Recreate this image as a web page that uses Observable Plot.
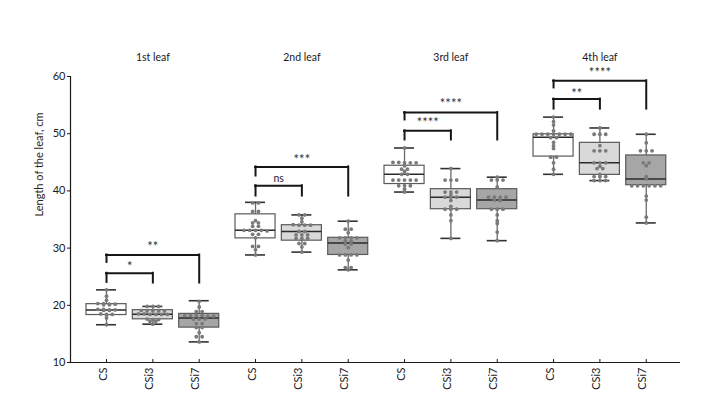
<!DOCTYPE html>
<html>
<head>
<meta charset="utf-8">
<script src="https://cdn.jsdelivr.net/npm/d3@7"></script>
<script src="https://cdn.jsdelivr.net/npm/@observablehq/plot@0.6"></script>
<style>
  html, body { margin: 0; padding: 0; background: #fff; }
  #chart svg { display: block; }
</style>
</head>
<body>
<div id="chart"></div>
<script>
// Leaf length (cm) of CS and the CSi3 / CSi7 lines, leaves 1–4
const leaves = ["1st leaf", "2nd leaf", "3rd leaf", "4th leaf"];
const genotypes = ["CS", "CSi3", "CSi7"];

// individual plants, one list per leaf
const lengthsCS = [
  [22.7, 21.6, 20.9, 20.3, 20.3, 20.2, 20.2, 20.1, 20.1, 19.3, 19.3, 19.2, 19.2, 19.1, 19.1, 18.5, 18.4, 18.4, 18.3, 17.8, 16.6],
  [37.9, 37.9, 36.4, 36.4, 34.8, 34.4, 34.4, 33.8, 33.8, 33.1, 33.1, 33.1, 33.1, 33.0, 32.4, 32.4, 31.8, 30.3, 30.3, 29.7, 28.8],
  [47.5, 45.0, 45.0, 44.9, 44.9, 44.9, 44.4, 43.8, 43.8, 43.4, 42.9, 42.9, 41.9, 41.9, 41.9, 41.9, 41.9, 40.9, 40.9, 40.9, 40.3, 39.8],
  [52.9, 52.1, 51.5, 50.5, 49.9, 49.9, 49.9, 49.9, 49.9, 49.9, 49.9, 49.3, 49.3, 48.5, 47.9, 47.4, 45.9, 45.9, 44.9, 43.8, 42.9]
];
const lengthsCSi3 = [
  [19.8, 19.8, 19.8, 19.1, 19.0, 19.0, 19.0, 19.0, 18.5, 18.5, 18.4, 18.4, 18.4, 18.4, 17.6, 17.5, 17.5, 17.2, 17.2, 16.7],
  [35.8, 35.8, 35.2, 34.6, 34.1, 34.0, 34.0, 34.0, 32.9, 32.9, 32.3, 32.3, 32.3, 31.7, 31.7, 31.7, 30.8, 30.8, 30.2, 29.3],
  [43.9, 41.9, 41.9, 41.9, 39.8, 39.8, 39.8, 39.3, 38.9, 38.9, 38.9, 38.3, 37.3, 36.8, 36.8, 36.8, 35.8, 34.8, 31.7],
  [51.0, 49.9, 49.9, 49.9, 47.9, 47.0, 47.0, 47.0, 44.9, 44.9, 44.9, 44.3, 43.9, 43.9, 42.9, 42.5, 42.5, 42.5, 41.8, 41.8, 41.8]
];
const lengthsCSi7 = [
  [20.7, 19.7, 18.9, 18.9, 18.2, 18.2, 18.2, 18.2, 18.1, 18.1, 17.6, 17.6, 17.6, 16.8, 16.8, 16.1, 16.1, 15.2, 14.5, 14.5, 13.6],
  [34.7, 33.3, 33.3, 32.7, 31.8, 31.8, 31.8, 31.8, 31.2, 31.2, 30.7, 30.7, 30.1, 28.8, 28.8, 28.8, 28.8, 27.9, 26.6, 26.6, 26.2],
  [42.4, 41.9, 41.9, 41.9, 40.7, 38.9, 38.9, 38.9, 38.9, 38.4, 38.3, 36.8, 36.8, 36.8, 35.8, 34.8, 34.3, 32.8, 31.3],
  [49.9, 48.4, 47.0, 47.0, 47.0, 44.9, 44.9, 44.4, 42.5, 42.1, 40.9, 40.9, 40.9, 40.9, 40.9, 40.9, 39.1, 38.4, 35.4, 34.4]
];

// box summaries, ordered leaf by leaf: CS, CSi3, CSi7
const boxMin    = [16.6, 16.7, 13.6,  28.8, 29.3, 26.2,  39.8, 31.7, 31.3,  42.9, 41.8, 34.4];
const boxQ1     = [18.3, 17.55, 16.1, 31.7, 31.3, 28.8,  41.2, 36.8, 36.8,  46.0, 42.8, 41.0];
const boxMedian = [19.2, 18.45, 17.8, 33.1, 32.9, 30.9,  42.9, 38.9, 38.4,  49.4, 44.9, 42.1];
const boxQ3     = [20.2, 19.15, 18.5, 35.9, 34.0, 31.8,  44.4, 40.3, 40.3,  49.9, 48.4, 46.2];
const boxMax    = [22.7, 19.8, 20.8,  38.0, 35.8, 34.7,  47.5, 43.9, 42.4,  52.9, 51.0, 49.9];

// significance brackets, each from CS to another line of the same leaf
const bracketLeaf     = [0, 0, 1, 1, 2, 2, 3, 3];
const bracketTo       = [1, 2, 1, 2, 1, 2, 1, 2];
const bracketBar      = [25.6, 28.8, 40.9, 44.2, 50.5, 53.7, 56.05, 59.25];
const bracketLeftEnd  = [24.0, 27.5, 39.1, 42.6, 48.9, 52.4, 54.3, 58.0];
const bracketRightEnd = [23.9, 23.9, 39.1, 39.1, 48.9, 48.9, 54.3, 54.3];
const bracketLabel    = ["*", "**", "ns", "***", "****", "****", "**", "****"];
const bracketLabelY   = [27.4, 31.0, 42.2, 46.1, 52.6, 55.9, 57.7, 61.4];

const yTicks = [10, 20, 30, 40, 50, 60];

// layout of the grouped x axis, in units of one genotype step
const GROUP_STEP = 3.215;
const HALF_BOX = 0.432;
const HALF_CAP = 0.216;
const DOT_GAP = 0.125;
const X_DOMAIN = [-0.777, 12.384];
const pos = (l, g) => l * GROUP_STEP + g;

const fills = ["#ffffff", "#d9d9d9", "#a6a6a6"];

const boxes = [];
leaves.forEach((leaf, l) => genotypes.forEach((g, gi) => {
  const k = l * 3 + gi;
  boxes.push({leaf, genotype: g, x: pos(l, gi),
    min: boxMin[k], q1: boxQ1[k], median: boxMedian[k], q3: boxQ3[k], max: boxMax[k]});
}));

// dots that share a value are laid side by side around the group centre
function spreadRow(values) {
  const sorted = [...values].sort((a, b) => b - a);
  const rows = [];
  for (const v of sorted) {
    const row = rows.find(r => Math.abs(r.v - v) < 0.15);
    if (row) row.items.push(v); else rows.push({v, items: [v]});
  }
  return rows.flatMap(r => r.items.map((v, k) => ({v, slot: k - (r.items.length - 1) / 2})));
}
const points = [];
[lengthsCS, lengthsCSi3, lengthsCSi7].forEach((series, gi) => series.forEach((vals, l) => {
  for (const p of spreadRow(vals)) points.push({x: pos(l, gi) + p.slot * DOT_GAP, y: p.v});
}));

const brackets = bracketLeaf.map((l, i) => ({
  x1: pos(l, 0), x2: pos(l, bracketTo[i]),
  bar: bracketBar[i], left: bracketLeftEnd[i], right: bracketRightEnd[i],
  label: bracketLabel[i], labelY: bracketLabelY[i]
}));

const tickData = boxes.map(b => ({x: b.x, genotype: b.genotype}));
const titleData = leaves.map((leaf, l) => ({x: pos(l, 1), leaf}));

const marginTop = 76, marginBottom = 36, height = 398;
const frameH = height - marginTop - marginBottom;

const ink = "#1a1a1a";
const lineColor = "#161616";

const chart = Plot.plot({
  width: 716,
  height,
  marginLeft: 70,
  marginRight: 36,
  marginTop,
  marginBottom,
  style: {fontFamily: "Lato, 'Open Sans', sans-serif", fontSize: "11px", color: ink, background: "#fff"},
  x: {domain: X_DOMAIN, axis: null},
  y: {domain: [10, 60], axis: null},
  color: {domain: genotypes, range: fills},
  marks: [
    // axes
    Plot.axisY(yTicks, {tickSize: 3, tickPadding: 2, label: null, fontSize: 11, fill: ink, stroke: ink}),
    Plot.ruleX([X_DOMAIN[0]], {stroke: ink, strokeWidth: 1.2}),
    Plot.ruleY([10], {stroke: ink, strokeWidth: 1.2}),
    Plot.tickX(tickData, {x: "x", insetTop: frameH - 3, stroke: ink, strokeWidth: 1}),
    Plot.text(tickData, {x: "x", text: "genotype", frameAnchor: "bottom", rotate: -90,
      textAnchor: "end", dy: 5, fontSize: 11, fill: ink}),
    Plot.text(["Length of the leaf, cm"], {frameAnchor: "left", rotate: -90, dx: -31, dy: -3,
      fontSize: 11, fill: "#2b2222"}),
    Plot.text(titleData, {x: "x", text: "leaf", frameAnchor: "top", dy: -22.5, fontSize: 10.5, fill: ink}),

    // box plots
    Plot.ruleX(boxes, {x: "x", y1: "min", y2: "max", stroke: "#6a6a6a", strokeWidth: 1.3}),
    Plot.ruleY(boxes, {x1: d => d.x - HALF_CAP, x2: d => d.x + HALF_CAP, y: "max", stroke: "#333", strokeWidth: 1.6}),
    Plot.ruleY(boxes, {x1: d => d.x - HALF_CAP, x2: d => d.x + HALF_CAP, y: "min", stroke: "#333", strokeWidth: 1.6}),
    Plot.rect(boxes, {x1: d => d.x - HALF_BOX, x2: d => d.x + HALF_BOX, y1: "q1", y2: "q3",
      fill: "genotype", stroke: "#5a5a5a", strokeWidth: 1.2}),
    Plot.ruleY(boxes, {x1: d => d.x - HALF_BOX, x2: d => d.x + HALF_BOX, y: "median", stroke: "#2a2a2a", strokeWidth: 1.5}),
    Plot.dot(points, {x: "x", y: "y", r: 1.9, fill: "#7a7a7a", stroke: null}),

    // significance brackets
    Plot.ruleY(brackets, {x1: "x1", x2: "x2", y: "bar", stroke: lineColor, strokeWidth: 2, strokeLinecap: "square"}),
    Plot.ruleX(brackets, {x: "x1", y1: "bar", y2: "left", stroke: lineColor, strokeWidth: 2, strokeLinecap: "square"}),
    Plot.ruleX(brackets, {x: "x2", y1: "bar", y2: "right", stroke: lineColor, strokeWidth: 2, strokeLinecap: "square"}),
    Plot.text(brackets.filter(b => b.label !== "ns"), {x: d => (d.x1 + d.x2) / 2, y: "labelY", text: "label",
      fontSize: 13, dy: 4, fill: "#333"}),
    Plot.text(brackets.filter(b => b.label === "ns"), {x: d => (d.x1 + d.x2) / 2, y: "labelY", text: "label",
      fontSize: 10.5, fill: "#1c2030"})
  ]
});

document.getElementById("chart").appendChild(chart);
</script>
</body>
</html>
